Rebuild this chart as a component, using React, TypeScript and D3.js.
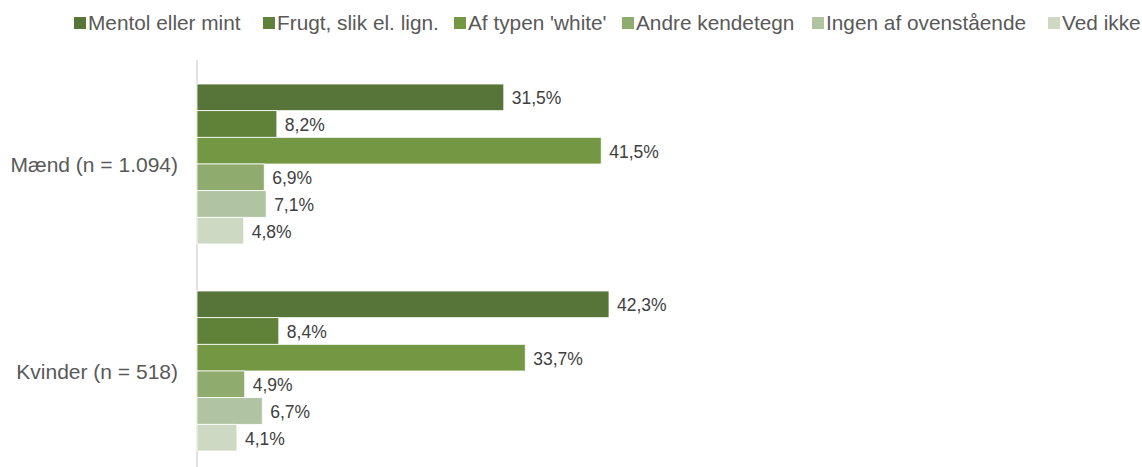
import React, { useEffect, useRef } from "react";
import * as d3 from "d3";

const categories = ["Mænd (n = 1.094)", "Kvinder (n = 518)"];
const seriesNames = [
  "Mentol eller mint",
  "Frugt, slik el. lign.",
  "Af typen 'white'",
  "Andre kendetegn",
  "Ingen af ovenstående",
  "Ved ikke",
];
const maendValues = [31.5, 8.2, 41.5, 6.9, 7.1, 4.8];
const kvinderValues = [42.3, 8.4, 33.7, 4.9, 6.7, 4.1];
const seriesColors = ["#577538", "#5f8138", "#739743", "#8fab6e", "#b1c4a1", "#cdd9c3"];

// legend layout (marker left edges)
const legendX = [74, 263, 454, 622, 812, 1048];

const W = 1142;
const H = 467;

export default function App() {
  const ref = useRef<SVGSVGElement>(null);

  useEffect(() => {
    const svg = d3.select(ref.current);
    svg.selectAll("*").remove();
    const font = "'Liberation Sans', Arial, sans-serif";
    const values = [maendValues, kvinderValues];

    const x0 = 197;
    const x = d3.scaleLinear().domain([0, 10]).range([x0, x0 + 97.4]);
    const y0 = d3.scaleBand<string>().domain(categories).range([60.5, 474.5]);
    const inner = 23.5;
    const y1 = d3
      .scaleBand<string>()
      .domain(seriesNames)
      .range([inner, y0.bandwidth() - inner]);

    svg
      .append("line")
      .attr("x1", x0)
      .attr("x2", x0)
      .attr("y1", 60)
      .attr("y2", H)
      .attr("stroke", "#d9d9d9")
      .attr("stroke-width", 1.5);

    categories.forEach((cat, ci) => {
      const g = svg.append("g").attr("transform", `translate(0,${y0(cat)})`);
      seriesNames.forEach((s, si) => {
        const v = values[ci][si];
        const yy = y1(s)!;
        g.append("rect")
          .attr("x", x(0))
          .attr("y", yy)
          .attr("width", x(v) - x(0))
          .attr("height", y1.bandwidth())
          .attr("fill", seriesColors[si])
          .attr("stroke", "#ffffff")
          .attr("stroke-width", 0.8);
        g.append("text")
          .attr("x", x(v) + 8)
          .attr("y", yy + y1.bandwidth() / 2 + 1)
          .attr("dominant-baseline", "central")
          .attr("font-family", font)
          .attr("font-size", 17.5)
          .attr("fill", "#404040")
          .text(v.toFixed(1).replace(".", ",") + "%");
      });
      svg
        .append("text")
        .attr("x", 178)
        .attr("y", y0(cat)! + y0.bandwidth() / 2)
        .attr("dominant-baseline", "central")
        .attr("text-anchor", "end")
        .attr("font-family", font)
        .attr("font-size", 21)
        .attr("fill", "#595959")
        .text(cat);
    });

    const lg = svg.append("g");
    seriesNames.forEach((s, si) => {
      const lx = legendX[si];
      lg.append("rect")
        .attr("x", lx)
        .attr("y", 17)
        .attr("width", 12)
        .attr("height", 12)
        .attr("fill", seriesColors[si]);
      lg.append("text")
        .attr("x", lx + 14)
        .attr("y", 30)
        .attr("font-family", font)
        .attr("font-size", 20.8)
        .attr("fill", "#595959")
        .text(s);
    });
  }, []);

  return (
    <svg
      ref={ref}
      width={W}
      height={H}
      style={{ position: "absolute", left: 0, top: 0, background: "#ffffff" }}
    />
  );
}
